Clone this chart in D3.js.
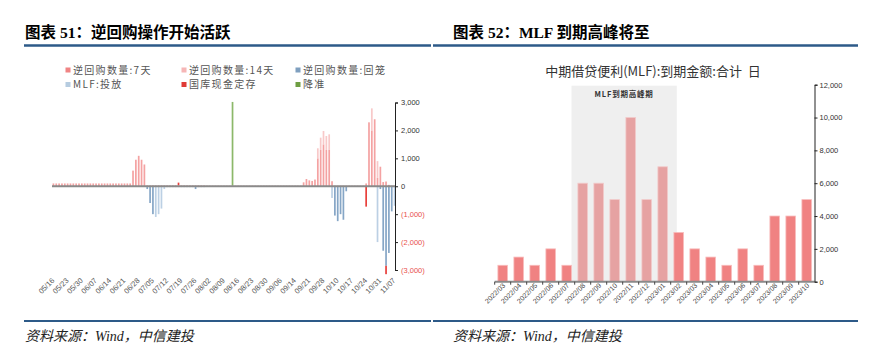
<!DOCTYPE html>
<html><head><meta charset="utf-8">
<script src="https://cdn.jsdelivr.net/npm/d3@7"></script>
<style>body{margin:0;background:#fff}svg{display:block}</style>
</head><body><svg id="c" width="878" height="357"></svg>
<script>
// ---------- Left chart data (2022 working days) ----------
const leftDates = ["05/16","05/17","05/18","05/19","05/20","05/23","05/24","05/25","05/26","05/27","05/30","05/31",
"06/01","06/02","06/06","06/07","06/08","06/09","06/10","06/13","06/14","06/15","06/16","06/17","06/20","06/21","06/22","06/23","06/24","06/27","06/28","06/29","06/30",
"07/01","07/04","07/05","07/06","07/07","07/08","07/11","07/12","07/13","07/14","07/15","07/18","07/19","07/20","07/21","07/22","07/25","07/26","07/27","07/28","07/29",
"08/01","08/02","08/03","08/04","08/05","08/08","08/09","08/10","08/11","08/12","08/15","08/16","08/17","08/18","08/19","08/22","08/23","08/24","08/25","08/26","08/29","08/30","08/31",
"09/01","09/02","09/05","09/06","09/07","09/08","09/09","09/13","09/14","09/15","09/16","09/19","09/20","09/21","09/22","09/23","09/26","09/27","09/28","09/29","09/30",
"10/08","10/09","10/10","10/11","10/12","10/13","10/14","10/17","10/18","10/19","10/20","10/21","10/24","10/25","10/26","10/27","10/28","10/31",
"11/01","11/02","11/03","11/04","11/07"];
const leftTickLabels = ["05/16","05/23","05/30","06/07","06/14","06/21","06/28","07/05","07/12","07/19","07/26","08/02","08/09","08/16","08/23","08/30","09/06","09/14","09/21","09/28","10/10","10/17","10/24","10/31","11/07"];
// 逆回购数量:7天 (亿元), one per date
const rr7 = [
100,100,100,100,100,100,100,100,100,100,100,100,
100,100,100,100,100,100,100,100,100,100,100,100,100,100,100,100,560,950,1090,950,780,
30,30,30,30,30,30,30,30,30,30,30,30,30,30,30,30,30,30,30,30,30,
20,20,20,20,20,20,20,20,20,20,20,20,20,20,20,20,20,20,20,20,20,20,20,
20,20,20,20,20,20,20,20,20,20,20,140,260,210,190,240,1000,1300,1500,1300,1300,
180,20,20,20,20,20,20,20,20,20,20,20,100,2290,2000,2400,300,700,
150,170,50,20,20];
// 逆回购数量:回笼 (negative), one per date
const rrBack = [
0,0,0,0,0,0,0,0,0,0,0,0,
0,0,0,0,0,0,0,0,0,0,0,0,0,0,0,0,0,0,0,0,0,
-100,-600,-1000,0,0,0,0,-30,-30,-30,-30,-30,-30,-30,-30,-30,-30,-100,-30,-30,-30,
-20,-20,-20,-20,-20,-20,-20,-20,-20,-20,-20,-20,-20,-20,-20,-20,-20,-20,-20,-20,-20,-20,-20,
-20,-20,-20,-20,-20,-20,-20,-20,-20,-20,-20,-20,-20,-20,-20,-20,-20,-20,-20,-20,-20,
0,-1050,-1250,-1000,-1200,-180,-20,-20,-20,-20,-20,-20,0,-20,-20,-20,0,-100,
-2310,-2850,-2390,-900,0];
// sparse series keyed by date
const rr14 = {"09/26":360,"09/27":440,"09/28":480,"09/29":500,"09/30":560,"10/26":790,"10/28":600};
const mlfOut = {"07/06":-1100,"07/07":-1000,"07/08":-800,"07/11":-100,"10/08":-420,"10/28":-2000,"11/07":-700};
const treasury = {"07/18":100,"10/24":-730,"11/02":-300};
const rrrCut = {"08/12":3000};
const leftYTicks = [-3000,-2000,-1000,0,1000,2000,3000];
const legendNames = ["逆回购数量:7天","逆回购数量:14天","逆回购数量:回笼","MLF:投放","国库现金定存","降准"];

// ---------- Right chart data ----------
const months = ["2022/03","2022/04","2022/05","2022/06","2022/07","2022/08","2022/09","2022/10","2022/11","2022/12",
"2023/01","2023/02","2023/03","2023/04","2023/05","2023/06","2023/07","2023/08","2023/09","2023/10"];
const mlfDue = [1000,1500,1000,2000,1000,6000,6000,5000,10000,5000,7000,3000,2000,1500,1000,2000,1000,4000,4000,5000];
const peakMonths = ["2022/08","2022/09","2022/10","2022/11","2022/12","2023/01"];
const rightYTicks = [0,2000,4000,6000,8000,10000,12000];

// ---------- drawing ----------
const svg = d3.select("#c");
svg.append("rect").attr("width",878).attr("height",357).attr("fill","#fff");
const titleFont = '"Liberation Serif","Noto Sans CJK SC",serif';
const cjk = '"Noto Sans CJK SC","Liberation Sans",sans-serif';
const sans = '"Liberation Sans","Noto Sans CJK SC",sans-serif';

[[25,"图表 51：逆回购操作开始活跃"],[453,"图表 52：MLF 到期高峰将至"]].forEach(([x,t])=>{
  svg.append("text").attr("x",x).attr("y",37.5).attr("font-family",titleFont).attr("font-weight","bold")
    .attr("font-size",15.5).attr("fill","#000").text(t);
});
[[24,431],[433,858]].forEach(([a,b])=>{
  svg.append("line").attr("x1",a).attr("x2",b).attr("y1",45.5).attr("y2",45.5).attr("stroke","#2d5a88").attr("stroke-width",2.5);
  svg.append("line").attr("x1",a).attr("x2",b).attr("y1",321).attr("y2",321).attr("stroke","#2d5a88").attr("stroke-width",2);
});
[25,453].forEach(x=>{
  svg.append("text").attr("x",x).attr("y",341).attr("font-family",titleFont).attr("font-style","italic")
    .attr("font-size",14).attr("fill","#222").text("资料来源：Wind，中信建投");
});

// ----- left chart -----
const keys = ["rr7","rr14","back","mlf","tre","rrr"];
const fills = {rr7:"#f4a2a2",rr14:"#f8c9c9",back:"#86a6c6",mlf:"#bcd0e4",tre:"#e8403c",rrr:"#8cb86a"};
const legendFills = ["#f08484","#f6b6b6","#7f9fbf","#b6cce0","#e03a36","#6e9e42"];
legendNames.forEach((n,i)=>{
  const cx = [68,184,298][i%3], cy = [70,84.5][Math.floor(i/3)];
  svg.append("rect").attr("x",cx-2.5).attr("y",cy-2.5).attr("width",5).attr("height",5).attr("fill",legendFills[i]);
  svg.append("text").attr("x",cx+5).attr("y",cy).attr("dy","0.36em").attr("font-family",cjk)
    .attr("font-size",10).attr("letter-spacing",1.3).attr("fill","#555").text(n);
});
const rows = leftDates.map((d,i)=>({date:d, rr7:rr7[i], rr14:rr14[d]||0, back:rrBack[i], mlf:mlfOut[d]||0, tre:treasury[d]||0, rrr:rrrCut[d]||0}));
const xL = d3.scaleBand().domain(leftDates).range([52,396]).paddingInner(0.4).paddingOuter(0.2);
const yL = d3.scaleLinear().domain([-3000,3000]).range([270,102.5]);
const stacked = d3.stack().keys(keys).offset(d3.stackOffsetDiverging)(rows);
const gL = svg.append("g");
stacked.forEach(layer=>{
  gL.append("g").attr("fill",fills[layer.key]).selectAll("rect").data(layer.filter(d=>d[0]!==d[1])).join("rect")
    .attr("x",d=>xL(d.data.date)).attr("width",xL.bandwidth())
    .attr("y",d=>yL(Math.max(d[0],d[1]))).attr("height",d=>Math.abs(yL(d[0])-yL(d[1])));
});
svg.append("line").attr("x1",52).attr("x2",395).attr("y1",yL(0)).attr("y2",yL(0)).attr("stroke","#8a8a8a").attr("stroke-width",2);
const fmt = d3.format(",");
const axL = svg.append("g").attr("transform","translate(395,0)")
  .call(d3.axisRight(yL).tickValues(leftYTicks).tickSize(3).tickFormat(v=>v<0?"("+fmt(-v)+")":fmt(v)));
axL.select(".domain").attr("stroke","#222");
axL.selectAll(".tick line").attr("stroke","#222");
axL.selectAll("text").attr("font-family",sans).attr("font-size",7.5).attr("x",6)
  .attr("fill",v=>v<0?"#e8504c":"#333");
svg.append("g").selectAll("text").data(leftTickLabels).join("text")
  .attr("transform",d=>`translate(${xL(d)+xL.bandwidth()/2+1.5},281) rotate(-45)`)
  .attr("text-anchor","end").attr("font-family",sans).attr("font-size",7.5).attr("fill","#555").text(d=>d);

// ----- right chart -----
const xR = d3.scaleBand().domain(months).range([494.7,814.7]).paddingInner(0.4).paddingOuter(0.2);
const yR = d3.scaleLinear().domain([0,12000]).range([281.7,84.7]);
svg.append("text").attr("x",653).attr("y",75.5).attr("text-anchor","middle").attr("font-family",cjk)
  .attr("font-size",13).attr("fill","#333").attr("xml:space","preserve").style("white-space","pre")
  .text("中期借贷便利(MLF):到期金额:合计\u00a0\u00a0日");
const sx0 = xR("2022/07")+xR.bandwidth(), sx1 = xR("2023/02")+xR.bandwidth()*0.3;
svg.append("rect").attr("x",sx0).attr("y",yR(12000)+1).attr("width",sx1-sx0).attr("height",yR(0)-yR(12000)-1).attr("fill","#efefef");
svg.append("text").attr("x",(sx0+sx1)/2).attr("y",96.5).attr("text-anchor","middle").attr("font-family",cjk)
  .attr("font-size",7.5).attr("font-weight","bold").attr("letter-spacing",0.8).attr("fill","#333").text("MLF到期高峰期");
svg.append("g").selectAll("rect").data(months).join("rect")
  .attr("x",d=>xR(d)).attr("width",xR.bandwidth())
  .attr("y",(d,i)=>yR(mlfDue[i])).attr("height",(d,i)=>yR(0)-yR(mlfDue[i]))
  .attr("fill",d=>peakMonths.includes(d)?"#e6a2a2":"#f08282")
  .attr("stroke",d=>peakMonths.includes(d)?"#f2caca":"#f8bcbc").attr("stroke-width",0.8);
svg.append("line").attr("x1",494.7).attr("x2",814.7).attr("y1",yR(0)).attr("y2",yR(0)).attr("stroke","#8a8a8a").attr("stroke-width",2);
svg.append("g").selectAll("line").data(months).join("line")
  .attr("x1",d=>xR(d)-xR.step()*0.2).attr("x2",d=>xR(d)-xR.step()*0.2)
  .attr("y1",yR(0)).attr("y2",yR(0)+3).attr("stroke","#444").attr("stroke-width",1);
const axR = svg.append("g").attr("transform","translate(814.5,0)")
  .call(d3.axisRight(yR).tickValues(rightYTicks).tickSize(3).tickFormat(fmt));
axR.select(".domain").attr("stroke","#222");
axR.selectAll(".tick line").attr("stroke","#222");
axR.selectAll("text").attr("font-family",sans).attr("font-size",7.5).attr("x",5).attr("fill","#333");
svg.append("g").selectAll("text").data(months).join("text")
  .attr("transform",d=>`translate(${xR(d)+xR.bandwidth()/2+3},286) rotate(-45)`)
  .attr("text-anchor","end").attr("font-family",sans).attr("font-size",7).attr("fill","#444").text(d=>d);
</script></body></html>
